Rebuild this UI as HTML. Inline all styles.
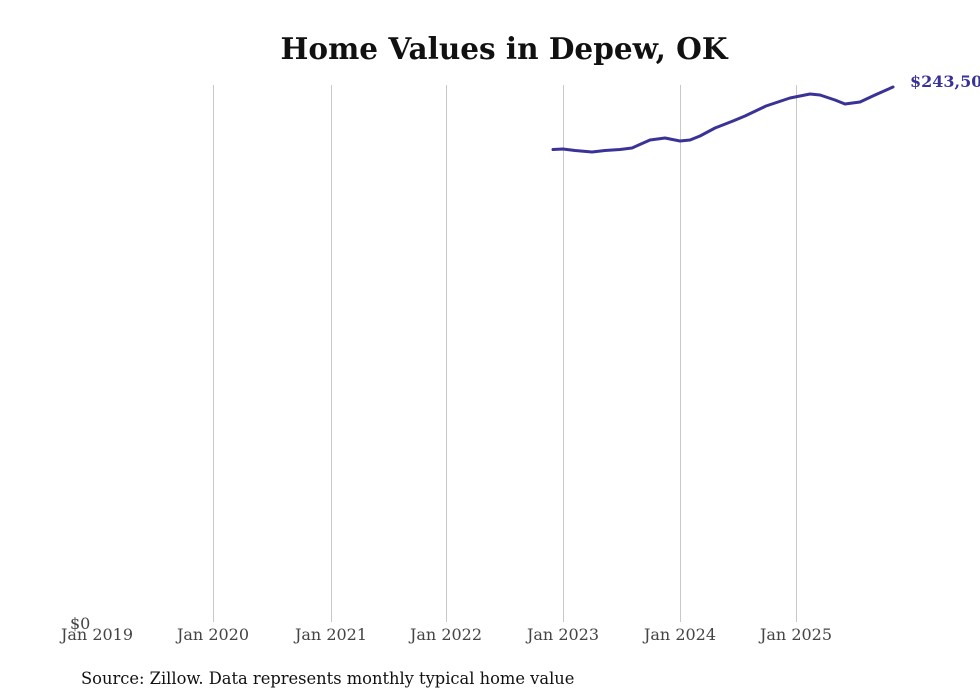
<!DOCTYPE html>
<html><head><meta charset="utf-8"><style>
html,body{margin:0;padding:0;background:#fff;}
svg{display:block;}
</style></head><body>
<svg width="980" height="699" xmlns="http://www.w3.org/2000/svg" font-family="'DejaVu Serif','Liberation Serif',serif">
<rect width="980" height="699" fill="#fff"/>
<text x="504" y="59" text-anchor="middle" font-size="29.5" font-weight="bold" fill="#111">Home Values in Depew, OK</text>
<g stroke="#c8c8c8" stroke-width="1">
<line x1="213.5" y1="85" x2="213.5" y2="622"/>
<line x1="331.5" y1="85" x2="331.5" y2="622"/>
<line x1="446.5" y1="85" x2="446.5" y2="622"/>
<line x1="563.5" y1="85" x2="563.5" y2="622"/>
<line x1="680.5" y1="85" x2="680.5" y2="622"/>
<line x1="796.5" y1="85" x2="796.5" y2="622"/>
</g>
<g font-size="16" fill="#444" text-anchor="middle">
<text x="97" y="640">Jan 2019</text>
<text x="213" y="640">Jan 2020</text>
<text x="331" y="640">Jan 2021</text>
<text x="446" y="640">Jan 2022</text>
<text x="563" y="640">Jan 2023</text>
<text x="680" y="640">Jan 2024</text>
<text x="796" y="640">Jan 2025</text>
</g>
<text x="70" y="629" font-size="16" fill="#444">$0</text>
<path d="M553,149.5 L563,149 L575,150.5 L592,152 L605,150.5 L620,149.5 L632,148 L650,140 L665,138 L680,141 L690,140 L700,136 L715,128 L733,121 L745,116 L766,106 L790,98 L810,94 L820,95 L835,100 L845,104 L860,102 L875,95 L893,87" fill="none" stroke="#3a3397" stroke-width="3" stroke-linejoin="round" stroke-linecap="round"/>
<text x="910" y="87" font-size="16" font-weight="bold" fill="#3a3397">$243,500</text>
<text x="81" y="684" font-size="16.3" fill="#111">Source: Zillow. Data represents monthly typical home value</text>
</svg>
</body></html>
